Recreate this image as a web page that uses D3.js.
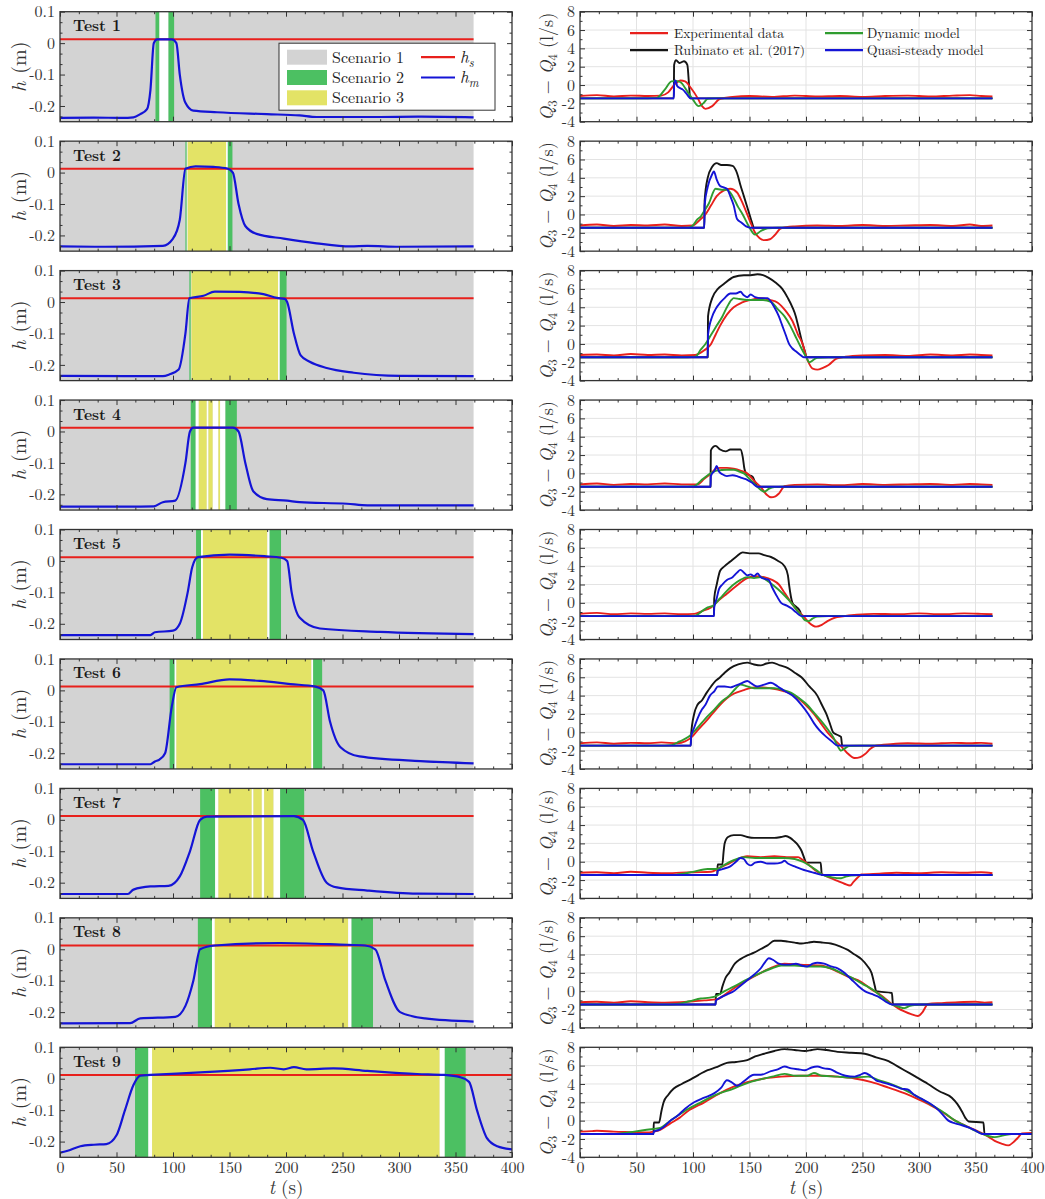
<!DOCTYPE html>
<html>
<head>
<meta charset="utf-8">
<script src="https://cdn.jsdelivr.net/npm/d3@7"></script>
<style>
  body { margin: 0; background: #fff; }
  svg text { font-family: "Latin Modern Roman", "Liberation Serif", serif !important; }
</style>
</head>
<body>
<svg id="chart" width="1045" height="1199"></svg>
<script>
//  ---- data ----
const testNames = ["Test 1", "Test 2", "Test 3", "Test 4", "Test 5", "Test 6", "Test 7", "Test 8", "Test 9"];
const tEnd = [366, 366, 366, 366, 366, 366, 366, 366, 400];
const hsLevel = 0.012;

//  scenario bands: [start, end, kind]  g = scenario 2, y = scenario 3, w = gap
const bands = [
  [[84.5, 88, "g"], [88, 96, "w"], [96, 101, "g"]],
  [[111, 112.2, "g"], [112.2, 113, "w"], [113, 147, "y"], [147, 148.5, "w"], [148.5, 152.6, "g"]],
  [[114.5, 115.8, "g"], [115.8, 116.3, "w"], [116.3, 193, "y"], [193, 194.5, "w"], [194.5, 200.5, "g"]],
  [[115.7, 120.1, "g"], [120.1, 122.8, "w"], [122.8, 129.9, "y"], [129.9, 131.4, "w"], [131.4, 135.2, "y"],
   [135.2, 140.2, "w"], [140.2, 141.7, "y"], [141.7, 146.4, "w"], [146.4, 156.5, "g"]],
  [[120.4, 124.8, "g"], [124.8, 126.5, "w"], [126.5, 183.5, "y"], [183.5, 185.5, "w"], [185.5, 195.6, "g"]],
  [[97, 101.5, "g"], [101.5, 103, "w"], [103, 222.5, "y"], [222.5, 224, "w"], [224, 232, "g"]],
  [[124, 137.3, "g"], [137.3, 140.2, "w"], [140.2, 169.7, "y"], [169.7, 171.2, "w"], [171.2, 178.6, "y"],
   [178.6, 180.7, "w"], [180.7, 189, "y"], [189, 194.8, "w"], [194.8, 216.1, "g"]],
  [[122, 134.5, "g"], [134.5, 137, "w"], [137, 255, "y"], [255, 258, "w"], [258, 277, "g"]],
  [[66.4, 78.2, "g"], [78.2, 81.5, "w"], [81.5, 336, "y"], [336, 340.5, "w"], [340.5, 359, "g"]]
];

//  h_m (m)
const hmCurves = [
  [[0,-0.238],[30,-0.237],[55,-0.238],[65,-0.236],[71,-0.226],[77,-0.21],[80,-0.15],[83,0],[86,0.012],[99,0.012],[103,0],[106,-0.1],[111,-0.19],[118,-0.215],[139,-0.22],[183,-0.226],[212,-0.23],[227,-0.235],[280,-0.235],[320,-0.234],[366,-0.236]],
  [[0,-0.235],[40,-0.236],[91,-0.233],[100,-0.21],[106,-0.15],[111,0.012],[120,0.02],[136,0.018],[148,0.013],[153,0],[158,-0.1],[164,-0.17],[174,-0.195],[198,-0.21],[227,-0.225],[257,-0.235],[272,-0.233],[300,-0.236],[366,-0.235]],
  [[0,-0.235],[60,-0.236],[91,-0.236],[97,-0.23],[105,-0.215],[111,-0.1],[114.5,0.012],[127,0.02],[137,0.033],[159,0.032],[180,0.025],[192,0.013],[199,0.01],[201,0],[207,-0.1],[213,-0.17],[221,-0.19],[236,-0.21],[260,-0.225],[301,-0.235],[366,-0.236]],
  [[0,-0.239],[60,-0.239],[83,-0.238],[91,-0.225],[102,-0.22],[111,-0.1],[115,0],[118,0.012],[153,0.012],[158,0],[164,-0.1],[171,-0.19],[183,-0.215],[201,-0.22],[212,-0.225],[254,-0.23],[272,-0.235],[366,-0.235]],
  [[0,-0.236],[80,-0.236],[84,-0.227],[100,-0.222],[106,-0.2],[113,-0.1],[117,-0.02],[122,0.012],[150,0.02],[181,0.015],[196,0.01],[201,0],[205,-0.1],[212,-0.18],[230,-0.215],[283,-0.226],[366,-0.233]],
  [[0,-0.235],[80,-0.235],[84,-0.226],[88,-0.22],[93,-0.2],[99,-0.05],[103,0.01],[124,0.02],[150,0.035],[177,0.03],[204,0.02],[226,0.012],[233,0],[239,-0.1],[248,-0.18],[265,-0.21],[319,-0.225],[366,-0.232]],
  [[0,-0.236],[60,-0.236],[65,-0.222],[80,-0.212],[96,-0.21],[106,-0.18],[115,-0.1],[124,0],[130,0.01],[207,0.012],[215,0],[224,-0.1],[236,-0.2],[245,-0.215],[272,-0.225],[316,-0.235],[366,-0.236]],
  [[0,-0.236],[62,-0.235],[71,-0.22],[102,-0.215],[111,-0.18],[118,-0.1],[124,0],[137,0.012],[195,0.02],[248,0.015],[270,0.012],[279,0],[288,-0.1],[301,-0.2],[323,-0.22],[366,-0.23]],
  [[0,-0.235],[6,-0.23],[18,-0.215],[30,-0.21],[41,-0.208],[50,-0.18],[57.5,-0.1],[65,-0.02],[71,0.01],[80,0.012],[124,0.02],[168,0.03],[186,0.035],[198,0.03],[207,0.037],[218,0.03],[242,0.033],[272,0.025],[316,0.015],[340,0.012],[354,0.005],[362,-0.01],[369,-0.1],[378,-0.19],[387,-0.215],[400,-0.225]]
];

//  Q3 - Q4 (l/s): experimental data
const qExp = [
  [[0,-1.2],[15,-1.1],[30,-1.25],[45,-1.15],[60,-1.2],[72,-1.15],[78,-0.8],[84,0.1],[89,0.5],[93,0.4],[98,-0.3],[104,-1.4],[108,-2.3],[111,-2.6],[117,-2.3],[124,-1.5],[135,-1.3],[150,-1.2],[170,-1.3],[190,-1.15],[210,-1.25],[230,-1.2],[250,-1.3],[270,-1.2],[290,-1.15],[310,-1.25],[330,-1.15],[345,-1.1],[355,-1.2],[365,-1.25]],
  [[0,-1.2],[15,-1.1],[30,-1.25],[45,-1.15],[60,-1.2],[75,-1.1],[90,-1.25],[100,-1.2],[106,-0.6],[111,0],[116,1],[121,2],[127,2.6],[133,2.8],[139,2.4],[144,1.2],[148,0],[152,-1.2],[155,-2],[159,-2.6],[163,-2.8],[168,-2.7],[172,-2.3],[178,-1.5],[190,-1.3],[210,-1.2],[230,-1.25],[250,-1.15],[270,-1.25],[290,-1.2],[310,-1.15],[330,-1.25],[345,-1.1],[355,-1.25],[365,-1.2]],
  [[0,-1.2],[15,-1.15],[30,-1.25],[45,-1.1],[60,-1.2],[75,-1.15],[90,-1.25],[102,-1.2],[110,-0.7],[116,0],[120,1],[124,2],[130,3.2],[136,4],[143,4.5],[151,4.8],[160,5],[168,4.8],[175,4.5],[182,3.6],[188,2.5],[193,1],[197,0],[200,-1.3],[203,-2.2],[206,-2.7],[210,-2.8],[215,-2.6],[220,-2.3],[227,-1.6],[235,-1.4],[250,-1.25],[270,-1.2],[290,-1.3],[310,-1.15],[330,-1.25],[345,-1.15],[355,-1.2],[365,-1.25]],
  [[0,-1.2],[15,-1.1],[30,-1.25],[45,-1.15],[60,-1.2],[75,-1.1],[90,-1.2],[104,-1.2],[110,-0.6],[116,0],[120,0.5],[124,0.6],[130,0.6],[136,0.5],[142,0.3],[148,0],[154,-0.8],[160,-1.5],[165,-2.3],[169,-2.6],[173,-2.5],[176,-2.2],[181,-1.4],[190,-1.25],[210,-1.2],[230,-1.3],[250,-1.15],[270,-1.25],[290,-1.2],[310,-1.15],[330,-1.25],[345,-1.15],[355,-1.2],[365,-1.25]],
  [[0,-1.2],[15,-1.1],[30,-1.25],[45,-1.15],[60,-1.2],[75,-1.15],[90,-1.25],[101,-1.2],[108,-0.9],[116,-0.5],[123,0.3],[130,1],[138,1.8],[148,2.7],[155,2.9],[163,2.8],[170,2.5],[176,2],[181,1.1],[187,0],[192,-0.8],[198,-1.5],[203,-2.2],[209,-2.6],[214,-2.4],[219,-2],[226,-1.6],[231,-1.5],[245,-1.3],[260,-1.2],[280,-1.25],[300,-1.15],[320,-1.25],[340,-1.15],[355,-1.2],[365,-1.25]],
  [[0,-1.2],[15,-1.1],[30,-1.25],[45,-1.15],[60,-1.2],[72,-1.1],[86,-1.2],[93,-1],[99,-0.5],[104,0.2],[110,1],[117,2],[124,3],[130,3.7],[136,4.2],[145,4.6],[154,4.9],[162,4.9],[169,4.8],[180,4.5],[190,4],[198,3.2],[207,2],[213,1],[219,0],[225,-0.8],[231,-1.5],[236,-2.2],[243,-2.8],[248,-2.7],[252,-2.4],[257,-1.8],[261,-1.5],[275,-1.3],[290,-1.2],[310,-1.25],[330,-1.15],[345,-1.2],[355,-1.15],[365,-1.25]],
  [[0,-1.2],[15,-1.15],[30,-1.25],[45,-1.1],[60,-1.2],[75,-1.25],[89,-1.2],[100,-1.15],[116,-1.1],[123,-0.7],[130,-0.3],[138,0.2],[148,0.6],[160,0.5],[172,0.6],[183,0.5],[193,0.5],[197,0.2],[204,-0.5],[210,-1.1],[215,-1.4],[222,-1.8],[228,-2.1],[234,-2.4],[239,-2.6],[242,-2.2],[246,-1.7],[249,-1.4],[265,-1.3],[280,-1.2],[300,-1.25],[320,-1.15],[340,-1.2],[355,-1.15],[365,-1.25]],
  [[0,-1.2],[15,-1.15],[30,-1.25],[45,-1.1],[60,-1.2],[75,-1.25],[89,-1.2],[100,-1.1],[110,-1.0],[121,-0.9],[128,-0.4],[136,0.3],[148,1.2],[160,2],[170,2.6],[181,3],[195,2.9],[213,2.8],[225,2.3],[237,1.6],[249,1],[258,0.2],[267,-0.5],[276,-1.4],[282,-1.9],[287,-2.2],[293,-2.5],[299,-2.7],[303,-2.3],[308,-1.4],[320,-1.3],[335,-1.2],[350,-1.15],[358,-1.25],[365,-1.2]],
  [[0,-1.2],[10,-1.15],[15,-1.1],[30,-1.2],[45,-1.25],[59,-1.3],[65,-1.2],[71,-1],[80,-0.3],[88,0.3],[95,1],[110,2],[124,3],[136,3.7],[148,4.2],[163,4.6],[178,4.8],[195,4.9],[213,4.9],[228,4.8],[243,4.6],[258,4.2],[273,3.6],[287,3],[300,2.3],[310,1.7],[320,1],[332,0],[344,-0.7],[356,-1.4],[362,-1.8],[367,-2.2],[373,-2.5],[379,-2.7],[384,-2.3],[388,-1.8],[391,-1.4],[400,-1.35]]
];

//  Rubinato et al. (2017)
const qRub = [
  [[0,-1.45],[83,-1.45],[83.3,2.2],[85,2.7],[88,2.4],[90,2.5],[92,2.6],[95,2.2],[96.5,0],[97.5,-1.45],[365,-1.45]],
  [[0,-1.45],[110,-1.45],[110.3,1.5],[113,4],[117,5.2],[121,5.6],[125,5.4],[130,5.4],[135,5.3],[139,4.5],[142,3.2],[145,2],[150,0],[152,-0.8],[154,-1.45],[365,-1.45]],
  [[0,-1.45],[113,-1.45],[113.3,3],[117,5],[122,6],[127,6.5],[136,7.3],[145,7.5],[151,7.5],[157,7.6],[162,7.5],[167,7.2],[173,6.7],[179,6],[184,5],[188,4],[191,3],[193,2],[197,0],[199,-0.8],[200.5,-1.45],[365,-1.45]],
  [[0,-1.45],[115.5,-1.45],[115.8,2.5],[118,2.9],[120,3],[124,2.6],[129,2.4],[133,2.6],[136,2.6],[142,2.6],[144,1.8],[145.5,0.5],[147,0],[150,-0.2],[153,-0.4],[155,-1],[157,-1.45],[365,-1.45]],
  [[0,-1.45],[118.5,-1.45],[118.8,0.5],[121,2],[124,3.5],[128,4],[133,4.5],[138,5],[144,5.5],[150,5.4],[154,5.4],[158,5.4],[163,5.2],[169,5],[175,4.6],[181,4],[184,3],[185,2],[188,0],[191,-0.4],[193,-0.6],[195,-1],[196,-1.45],[365,-1.45]],
  [[0,-1.45],[98,-1.45],[98.3,-0.3],[101,2],[104,3],[108,3.5],[112,4.3],[116,5],[120,5.6],[124,6],[128,6.5],[133,7],[140,7.4],[148,7.6],[154,7.4],[160,7.3],[165,7.5],[170,7.6],[177,7.3],[184,7],[190,6.5],[196,6],[203,5],[210,4],[214,3],[218,2],[221,1],[224,0],[228,-0.3],[231,-0.5],[232,-1.45],[365,-1.45]],
  [[0,-1.45],[121.5,-1.45],[121.8,-0.3],[126,-0.3],[127,1],[128,2],[131,2.7],[136,2.9],[142,2.9],[148,2.7],[154,2.6],[163,2.6],[172,2.6],[178,2.7],[182,2.8],[186,2.6],[189,2.3],[193,1.8],[196,1.2],[199,0.2],[200,-0.1],[213,-0.1],[214,-1.45],[365,-1.45]],
  [[0,-1.45],[120,-1.45],[120.3,-0.3],[124,-0.3],[126,0.5],[129,1.5],[132,2],[137,3],[142,3.5],[148,3.9],[154,4.2],[160,4.6],[166,5],[172,5.5],[178,5.5],[184,5.4],[190,5.3],[196,5.2],[202,5.3],[207,5.4],[215,5.3],[222,5.2],[230,4.9],[237,4.5],[243,4],[249,3.5],[254,2.8],[258,2],[261,0.5],[262,0],[276,-0.2],[277,-1.45],[365,-1.45]],
  [[0,-1.45],[65,-1.45],[65.3,-0.2],[70,-0.2],[72,1],[74,2],[78,2.8],[83,3.5],[90,4],[98,4.5],[105,5],[113,5.5],[120,5.8],[130,6.3],[138,6.4],[148,6.6],[155,7],[163,7.3],[172,7.6],[181,7.8],[190,7.7],[199,7.6],[205,7.7],[210,7.8],[218,7.7],[228,7.5],[240,7.4],[252,7.3],[262,6.9],[273,6.5],[280,6],[287,5.5],[297,4.8],[308,4],[318,3.2],[329,2.5],[334,1.8],[338,1],[341,0.3],[344,-0.1],[357,-0.2],[358,-1.45],[400,-1.45]]
];

//  dynamic model
const qDyn = [
  [[0,-1.45],[60,-1.45],[68,-1.4],[75,-0.5],[81,0.4],[85,0.45],[89,0.3],[95,-0.7],[100,-1.6],[105,-2.3],[109,-2.0],[113,-1.5],[120,-1.45],[365,-1.45]],
  [[0,-1.45],[95,-1.45],[99,-1.3],[104,-0.5],[107,-0.2],[109,0.2],[114,1.2],[120,2.8],[125,2.7],[130,2.7],[135,2],[140,0.8],[144,0],[149,-1.2],[155,-2.2],[160,-1.8],[166,-1.5],[175,-1.45],[365,-1.45]],
  [[0,-1.45],[95,-1.45],[102,-1.4],[107,-0.6],[111,0],[116,1],[121,2],[126,3],[130,4],[134,4.8],[136,5],[141,4.9],[148,4.8],[154,4.8],[162,4.8],[169,4.6],[175,3.8],[181,3],[186,2],[190,1],[196,-0.5],[200,-1.4],[203,-2],[207,-1.7],[210,-1.5],[220,-1.45],[365,-1.45]],
  [[0,-1.45],[95,-1.45],[101,-1.4],[107,-0.8],[113,-0.2],[117,0.1],[121,0.3],[130,0.4],[136,0.4],[141,0.2],[145,0],[150,-0.6],[154,-1.1],[159,-1.7],[163,-2],[167,-1.7],[172,-1.5],[180,-1.45],[365,-1.45]],
  [[0,-1.45],[95,-1.45],[102,-1.4],[108,-0.9],[113,-0.5],[118,-0.3],[124,0.5],[130,1.3],[136,2],[142,2.5],[148,2.8],[154,2.7],[160,2.8],[167,2.3],[175,1.5],[181,0.8],[187,0],[192,-0.8],[196,-1.4],[199,-1.9],[202,-2],[206,-1.7],[210,-1.5],[220,-1.45],[365,-1.45]],
  [[0,-1.45],[75,-1.45],[81,-1.4],[88,-1],[96,-0.5],[104,0.5],[111,1.5],[119,2.5],[125,3.3],[132,4],[138,4.8],[142,5.2],[148,5],[154,4.8],[162,4.8],[172,4.8],[180,4.6],[187,4.3],[194,3.7],[201,3],[208,2],[215,1],[220,0.2],[224,-0.5],[228,-1.5],[231,-2],[235,-1.7],[238,-1.5],[248,-1.45],[365,-1.45]],
  [[0,-1.45],[80,-1.45],[86,-1.4],[100,-1.1],[113,-0.8],[121,-0.8],[127,-0.4],[133,0],[139,0.3],[145,0.5],[155,0.4],[169,0.4],[180,0.4],[190,0.3],[197,0],[204,-0.5],[210,-1],[215,-1.45],[223,-1.7],[231,-1.8],[236,-1.6],[240,-1.5],[250,-1.45],[365,-1.45]],
  [[0,-1.45],[80,-1.45],[86,-1.4],[97,-1.1],[107,-0.8],[115,-0.7],[121,-0.5],[128,0],[136,0.5],[148,1.3],[160,2],[170,2.5],[178,2.8],[190,2.8],[202,2.7],[213,2.7],[222,2.5],[231,2],[240,1.5],[250,0.8],[261,0],[268,-0.7],[276,-1.45],[282,-1.7],[287,-1.85],[292,-1.6],[296,-1.5],[305,-1.45],[365,-1.45]],
  [[0,-1.45],[30,-1.45],[36,-1.4],[48,-1.2],[59,-1],[65,-0.9],[71,-0.8],[78,-0.2],[86,0.5],[96,1.3],[107,2],[120,2.8],[136,3.5],[148,4.1],[160,4.5],[170,4.8],[181,5.1],[191,4.9],[201,4.9],[207,5.2],[214,4.9],[228,4.8],[240,4.7],[255,4.8],[265,4.4],[273,4.1],[283,3.6],[293,3],[303,2.3],[314,1.5],[323,0.8],[332,0],[340,-0.5],[348,-1],[356,-1.45],[362,-1.7],[367,-1.8],[375,-1.6],[382,-1.45],[400,-1.45]]
];

//  quasi-steady model
const qQs = [
  [[0,-1.45],[83,-1.45],[83.3,0.1],[84.5,0.5],[86,-0.1],[88,-0.3],[91,-0.5],[94,-0.9],[98,-1.45],[365,-1.45]],
  [[0,-1.45],[110,-1.45],[110.3,1],[113,3],[117,4.4],[118.5,4.7],[121,3.8],[124,3.1],[126,3],[130,2.8],[133,2],[136,1],[139,-0.5],[143,-0.9],[147,-1.3],[151,-1.45],[365,-1.45]],
  [[0,-1.45],[113,-1.45],[113.3,1],[117,3],[120,3.8],[124,4.5],[128,5],[133,5.5],[138,5.5],[142,5.7],[145,5.3],[148,5.1],[151,5.4],[155,5.1],[160,5.0],[166,5.0],[169,4.6],[172,4],[176,3],[179,2],[182,1],[185,0],[188,-0.5],[191,-0.8],[195,-1.2],[198,-1.45],[365,-1.45]],
  [[0,-1.45],[115.5,-1.45],[115.8,-0.3],[119,0.3],[121,0.8],[123,0.2],[126,-0.1],[130,-0.3],[135,-0.2],[139,-0.3],[143,-0.5],[148,-0.7],[152,-1],[157,-1.45],[365,-1.45]],
  [[0,-1.45],[118.5,-1.45],[118.8,-0.5],[121,0.5],[123,1.5],[126,2],[130,2.5],[135,2.8],[139,3.3],[142,3.6],[145,3.3],[148,3.0],[151,3.1],[154,2.9],[157,3.2],[160,2.8],[164,2.6],[167,2.5],[170,1.7],[173,1],[178,0],[183,-0.3],[187,-0.6],[191,-1],[196,-1.45],[365,-1.45]],
  [[0,-1.45],[98,-1.45],[98.3,-0.5],[101,0.5],[104,1.5],[108,2.5],[111,3],[115,4],[119,4.5],[122,5],[128,5],[133,4.9],[136,5.0],[142,5.3],[148,5.6],[152,5.3],[157,5],[163,5.2],[169,5.4],[175,5],[181,4.5],[188,4],[196,3],[202,2],[207,1],[212,0.2],[218,-0.5],[223,-1],[228,-1.45],[365,-1.45]],
  [[0,-1.45],[121.5,-1.45],[121.8,-1],[126,-0.8],[133,-0.5],[138,0],[142,0.4],[145,0.3],[148,-0.2],[151,-0.4],[155,-0.1],[160,0],[166,-0.2],[172,-0.2],[178,-0.1],[181,0.1],[184,-0.2],[190,-0.5],[196,-0.8],[201,-1],[207,-1.2],[215,-1.45],[365,-1.45]],
  [[0,-1.45],[120,-1.45],[120.3,-1.0],[126,-0.6],[131,-0.3],[136,0],[142,0.6],[148,1.2],[154,1.8],[160,2.5],[164,3.2],[167,3.6],[171,3.4],[176,3],[181,2.9],[186,2.9],[191,3],[196,2.8],[201,2.7],[206,3],[210,3.1],[216,3],[222,2.7],[228,2.5],[234,2],[240,1.3],[246,0.6],[252,0],[258,-0.3],[264,-0.6],[270,-1.1],[276,-1.45],[365,-1.45]],
  [[0,-1.45],[65,-1.45],[65.3,-1.2],[70,-1],[74,-0.7],[80,0],[86,0.5],[93,1.3],[101,2],[110,2.5],[119,3],[125,3.6],[130,4.4],[134,4.2],[139,3.8],[145,4.3],[154,5],[160,5],[169,5.4],[175,5.6],[181,5.9],[187,5.7],[193,5.6],[199,5.5],[205,5.8],[210,5.9],[216,5.7],[222,5.6],[228,5.2],[235,4.9],[243,4.8],[248,5.0],[252,5.2],[257,4.9],[262,4.4],[267,4.2],[273,4.0],[278,3.8],[284,3.5],[290,3.4],[296,2.8],[302,2.4],[308,2],[314,1.5],[320,0.8],[326,0],[332,-0.3],[338,-0.5],[345,-0.8],[350,-1.1],[356,-1.45],[400,-1.45]]
];

const hTicks = [-0.2, -0.1, 0, 0.1];
const qTicks = [-4, -2, 0, 2, 4, 6, 8];
const tTicks = [0, 50, 100, 150, 200, 250, 300, 350, 400];
const scenarioNames = ["Scenario 1", "Scenario 2", "Scenario 3"];
const modelNames = ["Experimental data", "Rubinato et al. (2017)", "Dynamic model", "Quasi-steady model"];

//  ---- styles ----
const FONT = "\"Latin Modern Roman\", \"Liberation Serif\", serif";
const C = {
  gray: "#d3d3d3", green: "#4cc062", yellow: "#e3e366", gap: "#ffffff",
  red: "#e8201c", blue: "#1414d6", dgreen: "#2f9c2f", black: "#151515",
  frame: "#333333", text: "#333333", grid: "#e3e3e3"
};
const bandColor = {g: C.green, y: C.yellow, w: C.gap};

const svg = d3.select("#chart").attr("font-family", FONT);
const panelTop0 = 11.7, panelStep = 129.45, panelH = 110;

const xL = d3.scaleLinear().domain([0, 400]).range([60, 512]);
const xR = d3.scaleLinear().domain([0, 400]).range([580, 1032]);

const xMinor = d3.range(0, 24).map(k => k * 50 / 3).filter((v, k) => k % 3 !== 0 && v < 400);
const hMinor = d3.range(-7, 4).map(k => k * 0.1 / 3).filter((v, k) => (k - 7) % 3 !== 0 && v > -0.25 && v < 0.1);
const qMinor = d3.range(-3, 8, 2);

const hFmt = d => d === 0 ? "0" : (d < 0 ? "-" : "") + Math.abs(d).toFixed(1);
const qFmt = d => String(d);

function styleAxis(g) {
  g.attr("font-family", FONT);
  g.select(".domain").remove();
  g.selectAll(".tick line").attr("stroke", C.frame).attr("stroke-width", 1);
  g.selectAll(".tick text").attr("fill", C.text).style("font-size", "16px");
}

function drawFrame(g, x, y, yTicks, yMinor, yFmt, showX) {
  const [x0, x1] = x.range();
  const [y0, y1] = y.range();   // y0 bottom, y1 top
  g.append("g").attr("transform", `translate(${x0},0)`)
    .call(d3.axisLeft(y).tickValues(yTicks).tickSize(-5).tickPadding(5).tickFormat(yFmt)).call(styleAxis);
  g.append("g").attr("transform", `translate(${x0},0)`)
    .call(d3.axisLeft(y).tickValues(yMinor).tickSize(-2.5).tickFormat("")).call(styleAxis);
  g.append("g").attr("transform", `translate(${x1},0)`)
    .call(d3.axisRight(y).tickValues(yTicks).tickSize(-5).tickFormat("")).call(styleAxis);
  g.append("g").attr("transform", `translate(${x1},0)`)
    .call(d3.axisRight(y).tickValues(yMinor).tickSize(-2.5).tickFormat("")).call(styleAxis);
  g.append("g").attr("transform", `translate(0,${y1})`)
    .call(d3.axisTop(x).tickValues(tTicks).tickSize(-5).tickFormat("")).call(styleAxis);
  g.append("g").attr("transform", `translate(0,${y1})`)
    .call(d3.axisTop(x).tickValues(xMinor).tickSize(-2.5).tickFormat("")).call(styleAxis);
  g.append("g").attr("transform", `translate(0,${y0})`)
    .call(d3.axisBottom(x).tickValues(tTicks).tickSize(-5).tickPadding(4)
      .tickFormat(showX ? d3.format("d") : "")).call(styleAxis);
  g.append("g").attr("transform", `translate(0,${y0})`)
    .call(d3.axisBottom(x).tickValues(xMinor).tickSize(-2.5).tickFormat("")).call(styleAxis);
  g.append("rect")
    .attr("x", x0).attr("y", y1).attr("width", x1 - x0).attr("height", y0 - y1)
    .attr("fill", "none").attr("stroke", C.frame).attr("stroke-width", 1.3);
}

function lineOf(x, y) {
  return d3.line().x(d => x(d[0])).y(d => y(d[1])).curve(d3.curveMonotoneX);
}

testNames.forEach((name, i) => {
  const top = panelTop0 + i * panelStep;
  const bot = top + panelH;
  const yL = d3.scaleLinear().domain([-0.25, 0.1]).range([bot, top]);
  const yR = d3.scaleLinear().domain([-4, 8]).range([bot, top]);
  const last = i === testNames.length - 1;

  //  clip paths
  const defs = svg.append("defs");
  defs.append("clipPath").attr("id", "clipL" + i).append("rect")
    .attr("x", xL(0)).attr("y", top).attr("width", xL(400) - xL(0)).attr("height", panelH);
  defs.append("clipPath").attr("id", "clipR" + i).append("rect")
    .attr("x", xR(0)).attr("y", top).attr("width", xR(400) - xR(0)).attr("height", panelH);

  //  ---- left panel: levels ----
  const gl = svg.append("g");
  const pl = gl.append("g").attr("clip-path", `url(#clipL${i})`);
  pl.append("rect")
    .attr("x", xL(0)).attr("y", top).attr("width", xL(tEnd[i]) - xL(0)).attr("height", panelH)
    .attr("fill", C.gray);
  bands[i].forEach(b => {
    pl.append("rect")
      .attr("x", xL(b[0])).attr("y", top).attr("width", xL(b[1]) - xL(b[0])).attr("height", panelH)
      .attr("fill", bandColor[b[2]]);
  });
  pl.append("path")
    .datum([[0, hsLevel], [tEnd[i], hsLevel]])
    .attr("d", lineOf(xL, yL)).attr("fill", "none")
    .attr("stroke", C.red).attr("stroke-width", 2);
  pl.append("path")
    .datum(hmCurves[i])
    .attr("d", lineOf(xL, yL)).attr("fill", "none")
    .attr("stroke", C.blue).attr("stroke-width", 2.2);

  drawFrame(gl, xL, yL, hTicks, hMinor, hFmt, last);

  gl.append("text")
    .attr("x", 73).attr("y", top + 19.5)
    .style("font-size", "15.5px").style("font-weight", "bold").attr("fill", "#1a1a1a")
    .text(name);

  const hl = gl.append("text")
    .attr("transform", `translate(26,${top + panelH / 2}) rotate(-90)`)
    .attr("text-anchor", "middle").attr("fill", C.text).style("font-size", "20px");
  hl.append("tspan").style("font-style", "italic").text("h");
  hl.append("tspan").attr("dx", 8).text("(m)");

  //  ---- right panel: Q3 - Q4 ----
  const gr = svg.append("g");
  const pr = gr.append("g").attr("clip-path", `url(#clipR${i})`);
  tTicks.slice(1, -1).forEach(t => {
    pr.append("line").attr("x1", xR(t)).attr("x2", xR(t)).attr("y1", top).attr("y2", bot)
      .attr("stroke", C.grid).attr("stroke-width", 1);
  });
  qTicks.slice(1, -1).forEach(q => {
    pr.append("line").attr("x1", xR(0)).attr("x2", xR(400)).attr("y1", yR(q)).attr("y2", yR(q))
      .attr("stroke", C.grid).attr("stroke-width", 1);
  });
  const series = [
    [qRub[i], C.black],
    [qExp[i], C.red],
    [qDyn[i], C.dgreen],
    [qQs[i], C.blue]
  ];
  series.forEach(s => {
    pr.append("path").datum(s[0])
      .attr("d", lineOf(xR, yR)).attr("fill", "none")
      .attr("stroke", s[1]).attr("stroke-width", 1.9).attr("stroke-linejoin", "round");
  });

  drawFrame(gr, xR, yR, qTicks, qMinor, qFmt, last);

  const ql = gr.append("text")
    .attr("transform", `translate(553,${top + panelH / 2}) rotate(-90)`)
    .attr("text-anchor", "middle").attr("fill", C.text).style("font-size", "18px");
  ql.append("tspan").style("font-style", "italic").text("Q");
  ql.append("tspan").attr("dy", 4).style("font-size", "13px").text("3");
  ql.append("tspan").attr("dy", -4).text(" \u2212 ");
  ql.append("tspan").style("font-style", "italic").text("Q");
  ql.append("tspan").attr("dy", 4).style("font-size", "13px").text("4");
  ql.append("tspan").attr("dy", -4).text(" (l/s)");

  if (last) {
    [286, 806].forEach(cx => {
      const tl = svg.append("text").attr("x", cx).attr("y", 1194)
        .attr("text-anchor", "middle").attr("fill", C.text).style("font-size", "19px");
      tl.append("tspan").style("font-style", "italic").text("t");
      tl.append("tspan").attr("dx", 6).text("(s)");
    });
  }

  //  ---- legends on the first row ----
  if (i === 0) {
    const lg = gl.append("g");
    lg.append("rect").attr("x", 279).attr("y", top + 31.5).attr("width", 216).attr("height", 67)
      .attr("fill", "#fff").attr("stroke", C.frame).attr("stroke-width", 1);
    const swatch = [C.gray, C.green, C.yellow];
    scenarioNames.forEach((s, k) => {
      const cy = top + 45.5 + k * 20.3;
      lg.append("rect").attr("x", 287).attr("y", cy - 7.5).attr("width", 40).attr("height", 15)
        .attr("fill", swatch[k]);
      lg.append("text").attr("x", 332).attr("y", cy + 5.5).attr("fill", "#222")
        .style("font-size", "16px").text(s);
    });
    [["s", C.red], ["m", C.blue]].forEach((s, k) => {
      const cy = top + 45.5 + k * 20.3;
      lg.append("line").attr("x1", 421).attr("x2", 455).attr("y1", cy).attr("y2", cy)
        .attr("stroke", s[1]).attr("stroke-width", 2.2);
      const t = lg.append("text").attr("x", 460).attr("y", cy + 5.5).attr("fill", "#222")
        .style("font-size", "17px");
      t.append("tspan").style("font-style", "italic").text("h");
      t.append("tspan").attr("dy", 4).style("font-size", "12px").style("font-style", "italic").text(s[0]);
    });

    const rg = gr.append("g");
    const entries = [
      [modelNames[0], C.red, 630, 674, 0], [modelNames[1], C.black, 630, 674, 1],
      [modelNames[2], C.dgreen, 825, 867, 0], [modelNames[3], C.blue, 825, 867, 1]
    ];
    entries.forEach(e => {
      const cy = top + 21.5 + e[4] * 17;
      rg.append("line").attr("x1", e[2]).attr("x2", e[2] + 38).attr("y1", cy).attr("y2", cy)
        .attr("stroke", e[1]).attr("stroke-width", 2.2);
      rg.append("text").attr("x", e[3]).attr("y", cy + 5).attr("fill", "#222")
        .style("font-size", "13.5px").text(e[0]);
    });
  }
});
</script>
</body>
</html>
